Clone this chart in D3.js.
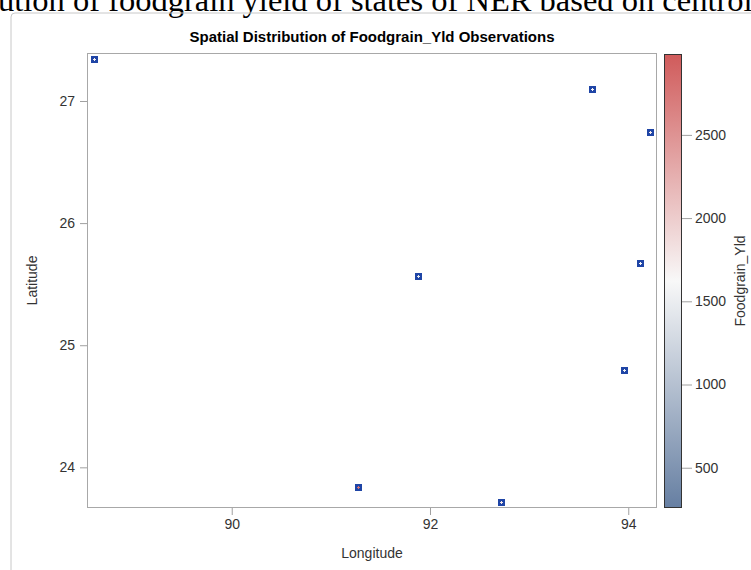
<!DOCTYPE html>
<html>
<head>
<meta charset="utf-8">
<script src="https://cdn.jsdelivr.net/npm/d3@7"></script>
<style>
    body { margin: 0; background: #fff; }
    svg { display: block; }
</style>
</head>
<body>
<div id="chart"></div>
<script>
// observations (state centroids)
const longitude = [88.61, 93.63, 94.22, 91.88, 94.12, 93.96, 91.27, 92.72];
const latitude  = [27.34, 27.10, 26.75, 25.57, 25.67, 24.80, 23.84, 23.72];
const foodgrainYld = [1700, 1650, 1750, 1450, 1600, 1550, 2750, 1800];

// axis ticks and colour range
const lonTicks = [90, 92, 94];
const latTicks = [24, 25, 26, 27];
const yldTicks = [500, 1000, 1500, 2000, 2500];
const yldRange = [258, 2986];

const W = 751, H = 570;
const plot = { left: 87, right: 657, top: 53, bottom: 508 };

const svg = d3.select("#chart").append("svg")
    .attr("width", W)
    .attr("height", H);

// caption line from the document, cut off at the top
const caption = svg.append("text")
    .attr("y", 11)
    .style("font-family", "'Liberation Serif', 'Times New Roman', serif")
    .style("font-size", "32.5px")
    .style("fill", "#000")
    .text("Spatial distribution of foodgrain yield of states of NER based on centroid");
const capStr = caption.text();
const cut = caption.node().getSubStringLength(0, capStr.indexOf("ution"));
caption.attr("x", -2 - cut);

// outer frame of the output
svg.append("path")
    .attr("d", `M11,${H} V17 Q11,13 15,13 H${W}`)
    .attr("fill", "none")
    .attr("stroke", "#c8c8c8");

// title
svg.append("text")
    .attr("x", (plot.left + plot.right) / 2)
    .attr("y", 42)
    .style("text-anchor", "middle")
    .style("font-family", "'Liberation Sans', Arial, sans-serif")
    .style("font-weight", "bold")
    .style("font-size", "15px")
    .style("fill", "#000")
    .text("Spatial Distribution of Foodgrain_Yld Observations");

// scales
const x = d3.scaleLinear().domain([88.54, 94.29]).range([plot.left, plot.right]);
const y = d3.scaleLinear().domain([23.667, 27.393]).range([plot.bottom, plot.top]);
const mid = (yldRange[0] + yldRange[1]) / 2;
const color = d3.scaleLinear()
    .domain([yldRange[0], mid, yldRange[1]])
    .range(["#667fa2", "#f8f8f8", "#d05b5b"]);

const fontAxis = "'Liberation Sans', Arial, sans-serif";

// axes
const xAxis = svg.append("g")
    .attr("transform", `translate(0,${plot.bottom})`)
    .call(d3.axisBottom(x).tickValues(lonTicks).tickSize(7).tickPadding(4).tickFormat(d3.format("d")));
const yAxis = svg.append("g")
    .attr("transform", `translate(${plot.left},0)`)
    .call(d3.axisLeft(y).tickValues(latTicks).tickSize(7).tickPadding(5).tickFormat(d3.format("d")));

[xAxis, yAxis].forEach(g => {
    g.select(".domain").remove();
    g.selectAll(".tick line").attr("stroke", "#a0a0a0");
    g.selectAll(".tick text")
        .style("font-family", fontAxis)
        .style("font-size", "14px")
        .style("fill", "#333");
});

// plot frame
svg.append("rect")
    .attr("x", plot.left + 0.5)
    .attr("y", plot.top + 0.5)
    .attr("width", plot.right - plot.left - 1)
    .attr("height", plot.bottom - plot.top - 1)
    .attr("fill", "none")
    .attr("stroke", "#a8a8a8");

// axis labels
svg.append("text")
    .attr("x", (plot.left + plot.right) / 2)
    .attr("y", 558)
    .style("text-anchor", "middle")
    .style("font-family", fontAxis)
    .style("font-size", "14px")
    .style("fill", "#333")
    .text("Longitude");

svg.append("text")
    .attr("transform", `translate(37,${(plot.top + plot.bottom) / 2}) rotate(-90)`)
    .style("text-anchor", "middle")
    .style("font-family", fontAxis)
    .style("font-size", "14px")
    .style("fill", "#333")
    .text("Latitude");

// markers: blue square with a small plus showing the yield colour
const pts = longitude.map((d, i) => ({ lon: d, lat: latitude[i], yld: foodgrainYld[i] }));
const mk = svg.selectAll(".obs")
    .data(pts)
    .enter().append("g")
    .attr("class", "obs")
    .attr("transform", d => `translate(${Math.round(x(d.lon)) + 0.5},${Math.round(y(d.lat)) + 0.5})`);
mk.append("rect")
    .attr("x", -3.5).attr("y", -3.5)
    .attr("width", 7).attr("height", 7)
    .attr("fill", "#1f45a6");
mk.append("path")
    .attr("d", "M-0.5,-1.5h1v1h1v1h-1v1h-1v-1h-1v-1h1z")
    .attr("fill", d => color(d.yld));

// colour bar
const bar = { left: 664, right: 682, top: 54, bottom: 508 };
const cy = d3.scaleLinear().domain(yldRange).range([bar.bottom, bar.top]);

const grad = svg.append("defs").append("linearGradient")
    .attr("id", "yldGrad")
    .attr("x1", 0).attr("y1", 1).attr("x2", 0).attr("y2", 0);
grad.selectAll("stop")
    .data(color.domain())
    .enter().append("stop")
    .attr("offset", d => (d - yldRange[0]) / (yldRange[1] - yldRange[0]))
    .attr("stop-color", d => color(d));

svg.append("rect")
    .attr("x", bar.left + 0.5)
    .attr("y", bar.top + 0.5)
    .attr("width", bar.right - bar.left - 1)
    .attr("height", bar.bottom - bar.top - 1)
    .attr("fill", "url(#yldGrad)")
    .attr("stroke", "#333");

const cAxis = svg.append("g")
    .attr("transform", `translate(${bar.right},0)`)
    .call(d3.axisRight(cy).tickValues(yldTicks).tickSize(10).tickPadding(3).tickFormat(d3.format("d")));
cAxis.select(".domain").remove();
cAxis.selectAll(".tick line").attr("stroke", "#a0a0a0");
cAxis.selectAll(".tick text")
    .style("font-family", fontAxis)
    .style("font-size", "14px")
    .style("fill", "#333");

svg.append("text")
    .attr("transform", `translate(745,${(bar.top + bar.bottom) / 2}) rotate(-90)`)
    .style("text-anchor", "middle")
    .style("font-family", fontAxis)
    .style("font-size", "14px")
    .style("fill", "#333")
    .text("Foodgrain_Yld");
</script>
</body>
</html>
